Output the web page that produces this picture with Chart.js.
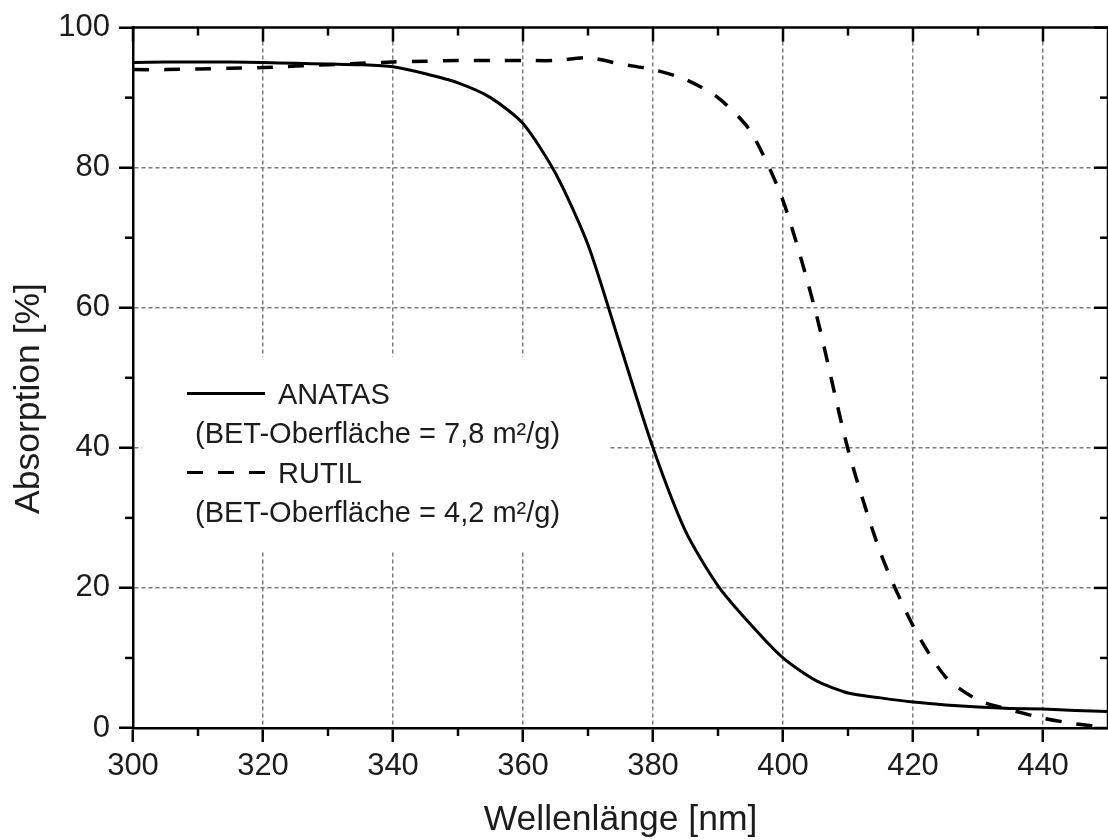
<!DOCTYPE html>
<html>
<head>
<meta charset="utf-8">
<title>Absorption ANATAS / RUTIL</title>
<script src="https://cdn.jsdelivr.net/npm/chart.js@4/dist/chart.umd.min.js"></script>
<style>
  html, body { margin: 0; padding: 0; background: #fff; }
  #wrap { width: 1108px; height: 840px; }
</style>
</head>
<body>
<div id="wrap"><canvas id="c" width="1108" height="840"></canvas></div>
<script>
// Wavelength grid of the measurement (nm)
const wavelength = [300, 305, 310, 315, 320, 325, 330, 335, 340, 345, 350, 355, 360, 365, 370, 375,
                    380, 385, 390, 395, 400, 405, 410, 415, 420, 425, 430, 435, 440, 445, 450];
// Absorption (%) of the anatase powder
const anatas = [95.0, 95.1, 95.1, 95.1, 95.0, 94.9, 94.8, 94.7, 94.4, 93.4, 92.1, 90.0, 86.3, 79.2, 69.0, 54.5,
                40.0, 28.1, 20.3, 14.8, 10.0, 6.8, 5.0, 4.3, 3.7, 3.3, 3.0, 2.8, 2.7, 2.5, 2.35];
// Absorption (%) of the rutile powder
const rutil = [94.0, 94.0, 94.1, 94.2, 94.3, 94.5, 94.7, 94.9, 95.1, 95.2, 95.3, 95.3, 95.3, 95.3, 95.7, 94.8,
               94.0, 92.6, 90.0, 85.2, 75.3, 59.5, 39.8, 25.0, 14.6, 7.3, 4.0, 2.6, 1.4, 0.6, 0.1];

// Axis ticks
const xMajorTicks = [300, 320, 340, 360, 380, 400, 420, 440];
const xMinorTicks = [310, 330, 350, 370, 390, 410, 430];
const yMajorTicks = [0, 20, 40, 60, 80, 100];
const yMinorTicks = [10, 30, 50, 70, 90];

// Legend entries
const legendItems = [
  { name: 'ANATAS', note: '(BET-Oberfläche = 7,8 m²/g)', dash: [] },
  { name: 'RUTIL',  note: '(BET-Oberfläche = 4,2 m²/g)', dash: [16, 15] }
];

const FONT = '"Liberation Sans", Arial, Helvetica, sans-serif';
const TEXT = '#1c1c1c';
const GRID = '#7d7d7d';

const toPoints = ys => wavelength.map((x, i) => ({ x: x, y: ys[i] }));

// Frame on top/right, inward ticks there, minor ticks everywhere, legend and y title
const decorations = {
  id: 'decorations',
  beforeDatasetsDraw(chart) {
    const { ctx } = chart;
    ctx.save();
    // legend panel hides the grid behind it
    ctx.fillStyle = '#fff';
    ctx.fillRect(142, 357, 466, 194);
    ctx.fillStyle = TEXT;
    ctx.strokeStyle = '#000';
    ctx.lineWidth = 3;
    ctx.font = '29px ' + FONT;
    ctx.textBaseline = 'alphabetic';
    ctx.textAlign = 'left';
    const rows = [[393.5, 404, 442.5], [472.5, 482.5, 521.5]];
    legendItems.forEach((it, i) => {
      const [ly, nameY, noteY] = rows[i];
      ctx.setLineDash(it.dash);
      ctx.beginPath();
      ctx.moveTo(187, ly);
      ctx.lineTo(265, ly);
      ctx.stroke();
      ctx.setLineDash([]);
      ctx.fillText(it.name, 278, nameY);
      ctx.fillText(it.note, 195, noteY);
    });
    ctx.restore();
  },
  afterDraw(chart) {
    const { ctx, chartArea: a, scales: { x, y } } = chart;
    ctx.save();
    ctx.strokeStyle = '#000';
    ctx.lineWidth = 2.5;
    const seg = (x1, y1, x2, y2) => { ctx.beginPath(); ctx.moveTo(x1, y1); ctx.lineTo(x2, y2); ctx.stroke(); };
    // top and right frame
    seg(a.left - 1.25, a.top, a.right, a.top);
    seg(a.right, a.top, a.right, a.bottom);
    // major ticks pointing inward on top/right
    xMajorTicks.forEach(v => { const p = x.getPixelForValue(v); seg(p, a.top, p, a.top + 14); });
    yMajorTicks.forEach(v => { const p = y.getPixelForValue(v); seg(a.right, p, a.right - 14, p); });
    // minor ticks: outward at bottom/left, inward at top/right
    xMinorTicks.forEach(v => {
      const p = x.getPixelForValue(v);
      seg(p, a.bottom, p, a.bottom + 8);
      seg(p, a.top, p, a.top + 8);
    });
    yMinorTicks.forEach(v => {
      const p = y.getPixelForValue(v);
      seg(a.left, p, a.left - 8, p);
      seg(a.right, p, a.right - 8, p);
    });
    // vertical axis title
    ctx.fillStyle = TEXT;
    ctx.font = '35.5px ' + FONT;
    ctx.textAlign = 'center';
    ctx.textBaseline = 'alphabetic';
    ctx.translate(39, 398.5);
    ctx.rotate(-Math.PI / 2);
    ctx.fillText('Absorption [%]', 0, 0);
    ctx.restore();
  }
};

const edgeHidden = (min, max) => ctx => {
  const v = ctx.tick ? ctx.tick.value : null;
  return (v === min || v === max) ? 'rgba(0,0,0,0)' : GRID;
};

new Chart(document.getElementById('c'), {
  type: 'line',
  data: {
    datasets: [
      {
        label: 'ANATAS',
        data: toPoints(anatas),
        borderColor: '#000',
        borderWidth: 3,
        pointRadius: 0,
        tension: 0.25,
        fill: false
      },
      {
        label: 'RUTIL',
        data: toPoints(rutil),
        borderColor: '#000',
        borderWidth: 3.5,
        borderDash: [16, 15],
        pointRadius: 0,
        tension: 0.25,
        fill: false
      }
    ]
  },
  options: {
    responsive: false,
    animation: false,
    events: [],
    layout: { padding: { top: 23, right: 0, left: 0, bottom: 0 } },
    plugins: {
      legend: { display: false },
      tooltip: { enabled: false }
    },
    scales: {
      x: {
        type: 'linear',
        min: 300,
        max: 450,
        afterFit: s => { s.height = 112; },
        afterBuildTicks: s => { s.ticks = xMajorTicks.map(v => ({ value: v })); },
        ticks: {
          color: TEXT,
          font: { family: FONT, size: 31, lineHeight: 1.2 },
          padding: 6,
          maxRotation: 0,
          autoSkip: false
        },
        grid: {
          color: edgeHidden(300, 450),
          lineWidth: 1.5,
          drawTicks: true,
          tickLength: 14,
          tickColor: '#000',
          tickWidth: 2.5,
          tickBorderDash: []
        },
        border: { display: true, color: '#000', width: 2.5, dash: [4, 3] },
        title: {
          display: true,
          text: 'Wellenlänge [nm]',
          color: TEXT,
          font: { family: FONT, size: 35.5, lineHeight: 1 },
          padding: { top: 0, bottom: 2 }
        }
      },
      y: {
        type: 'linear',
        min: 0,
        max: 100,
        afterFit: s => { s.width = 133; },
        afterBuildTicks: s => { s.ticks = yMajorTicks.map(v => ({ value: v })); },
        ticks: {
          color: TEXT,
          font: { family: FONT, size: 31, lineHeight: 1.2 },
          padding: 9
        },
        grid: {
          color: edgeHidden(0, 100),
          lineWidth: 1.5,
          drawTicks: true,
          tickLength: 14,
          tickColor: '#000',
          tickWidth: 2.5,
          tickBorderDash: []
        },
        border: { display: true, color: '#000', width: 2.5, dash: [4, 3] },
        title: { display: false }
      }
    }
  },
  plugins: [decorations]
});
</script>
</body>
</html>
